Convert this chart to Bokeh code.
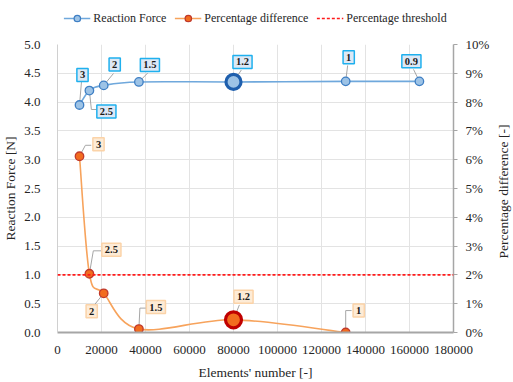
import math
import numpy as np
from bokeh.plotting import figure
from bokeh.layouts import column, row
from bokeh.core.properties import value
from bokeh.models import (Range1d, LinearAxis, Label, Legend, LegendItem, Span,
                          SingleIntervalTicker, PrintfTickFormatter, NumeralTickFormatter)
from bokeh.embed import file_html
from bokeh.resources import INLINE

# ---------------- data ----------------
force_x = [10000, 14500, 21000, 37000, 80000, 131000, 164500]
force_y = [3.95, 4.20, 4.29, 4.35, 4.35, 4.36, 4.36]
force_lbl = ["3", "2.5", "2", "1.5", "1.2", "1", "0.9"]

pct_x = [10000, 14500, 21000, 37000, 80000, 131000]
pct_y = [6.12, 2.04, 1.36, 0.12, 0.44, 0.0]
pct_lbl = ["3", "2.5", "2", "1.5", "1.2", "1"]

threshold = 2.0
highlight = "1.2"
series_names = ["Reaction Force", "Percentage difference", "Percentage threshold"]
x_title = "Elements' number [-]"
y_title = "Reaction Force [N]"
y2_title = "Percentage difference [-]"

# ---------------- layout (pixels) ----------------
W, H, LEG_H, RT_W = 513, 382, 36, 21
FL, FR, FT, FB = 52, 456, 44, 333
XMAX, YMAX, PMAX = 180000, 5.0, 10.0
def px_x(dx): return dx * XMAX / (FR - FL)
def px_y(dy): return -dy * YMAX / (FB - FT)

force_box = [(3, -30), (17, 21), (11, -21), (11, -17), (9, -20), (3, -24), (-8, -20)]
force_lead = [[(0, 0), (2, -23)], [(0, 0), (2, 19), (8, 19)], [(0, 0), (10, -12)],
              [(0, 0), (9, -9)], [(0, 0), (8, -12)], [(0, 0), (2, -16)], [(0, 0), (-6, -12)]]
pct_box = [(19, -12), (22, -24), (-12, 18), (17, -22), (10, -23), (13, -22)]
pct_lead = [[(0, 0), (6, -11), (12, -11)], [(0, 0), (4, -23), (12, -23)], [(0, 0), (-9, 11)],
            [(0, 0), (1, -21), (8, -21)], [(0, 0), (6, -15)], [(0, 0), (0, -22), (6, -22)]]

FONT = "Liberation Serif"
TXT = "#262626"
PW = W - RT_W

p = figure(width=PW, height=H - LEG_H, output_backend="svg", toolbar_location=None,
           x_range=Range1d(0, XMAX), y_range=Range1d(0, YMAX),
           min_border_left=FL, min_border_right=PW - FR, min_border_top=FT - LEG_H,
           min_border_bottom=H - FB)
p.extra_y_ranges = {"pct": Range1d(0, PMAX)}
p.outline_line_color = None
p.background_fill_color = "white"
p.border_fill_color = "white"

p.xaxis.ticker = SingleIntervalTicker(interval=20000)
p.yaxis.ticker = SingleIntervalTicker(interval=0.5)
p.yaxis.formatter = NumeralTickFormatter(format="0.0")
p.xaxis.formatter = NumeralTickFormatter(format="0")
for ax in [p.xaxis[0], p.yaxis[0]]:
    ax.major_tick_out = 0
    ax.major_tick_in = 0
    ax.minor_tick_out = 0
    ax.minor_tick_in = 0
    ax.major_label_text_font = FONT
    ax.major_label_text_font_size = "13px"
    ax.major_label_text_color = TXT
    ax.axis_label_text_font = FONT
    ax.axis_label_text_font_size = "13.5px"
    ax.axis_label_text_font_style = "normal"
    ax.axis_label_text_color = TXT
p.xaxis.axis_label = x_title
p.yaxis.axis_label = y_title
p.xaxis.axis_line_color = "#a6a6a6"
p.xaxis.axis_line_width = 2
p.yaxis.axis_line_color = "#d0d0d0"
p.xaxis.major_label_standoff = 13
p.xaxis.axis_label_standoff = 8
p.yaxis.major_label_standoff = 17
p.yaxis.axis_label_standoff = 3

ra = LinearAxis(y_range_name="pct", ticker=SingleIntervalTicker(interval=1),
                formatter=PrintfTickFormatter(format="%d%%"))
ra.major_tick_out = 4
ra.major_tick_in = 0
ra.minor_tick_out = 0
ra.minor_tick_in = 0
ra.major_tick_line_color = "#a6a6a6"
ra.axis_line_color = "#a6a6a6"
ra.axis_line_width = 1.5
ra.major_label_text_font = FONT
ra.major_label_text_font_size = "13px"
ra.major_label_text_color = TXT
ra.major_label_standoff = 8
p.add_layout(ra, "right")

p.xgrid.grid_line_color = "#e3e3e3"
p.ygrid.grid_line_color = "#e3e3e3"

def bezier_parts(xs, ys):
    xs = np.asarray(xs, float); ys = np.asarray(ys, float)
    n = len(xs)
    out = {k: [] for k in ["x0", "y0", "x1", "y1", "cx0", "cy0", "cx1", "cy1"]}
    for i in range(n - 1):
        a = max(i - 1, 0); d = min(i + 2, n - 1)
        out["x0"].append(xs[i]); out["y0"].append(ys[i])
        out["x1"].append(xs[i + 1]); out["y1"].append(ys[i + 1])
        out["cx0"].append(xs[i] + (xs[i + 1] - xs[a]) / 6)
        out["cy0"].append(ys[i] + (ys[i + 1] - ys[a]) / 6)
        out["cx1"].append(xs[i + 1] - (xs[d] - xs[i]) / 6)
        out["cy1"].append(ys[i + 1] - (ys[d] - ys[i]) / 6)
    return out

BL_LINE, BL_FILL, BL_EDGE = "#6fa8dc", "#9dc3e6", "#3f7fc4"
OR_LINE, OR_FILL, OR_EDGE = "#f7a35c", "#f26c1f", "#c0392b"
THR_COL = "#ff1a1a"

p.bezier(line_color=BL_LINE, line_width=1.6, **bezier_parts(force_x, force_y))
p.bezier(line_color=OR_LINE, line_width=1.6, y_range_name="pct", **bezier_parts(pct_x, pct_y))
p.add_layout(Span(location=threshold, dimension="width", y_range_name="pct",
                  line_color=THR_COL, line_dash="3 2", line_width=1.6))

def leaders(xs, ys, leads, scale=1.0):
    lx, ly = [], []
    for x0, y0, path in zip(xs, ys, leads):
        lx.append([x0 + px_x(dx) for dx, dy in path])
        ly.append([y0 + px_y(dy) * scale for dx, dy in path])
    return lx, ly

lx, ly = leaders(force_x, force_y, force_lead)
p.multi_line(lx, ly, line_color="#a6a6a6", line_width=1)
lx2, ly2 = leaders(pct_x, pct_y, pct_lead, scale=PMAX / YMAX)
p.multi_line(lx2, ly2, line_color="#a6a6a6", line_width=1, y_range_name="pct")

fx_n = [x for x, l in zip(force_x, force_lbl) if l != highlight]
fy_n = [y for y, l in zip(force_y, force_lbl) if l != highlight]
fx_h = [x for x, l in zip(force_x, force_lbl) if l == highlight]
fy_h = [y for y, l in zip(force_y, force_lbl) if l == highlight]
p.scatter(fx_n, fy_n, size=8.5, fill_color=BL_FILL, line_color=BL_EDGE, line_width=1.3)
p.scatter(fx_h, fy_h, size=15, fill_color=BL_FILL, line_color="#1f5fad", line_width=3.2)

px_n = [x for x, l in zip(pct_x, pct_lbl) if l != highlight]
py_n = [y for y, l in zip(pct_y, pct_lbl) if l != highlight]
px_h = [x for x, l in zip(pct_x, pct_lbl) if l == highlight]
py_h = [y for y, l in zip(pct_y, pct_lbl) if l == highlight]
p.scatter(px_n, py_n, size=8.5, fill_color=OR_FILL, line_color=OR_EDGE, line_width=1.3,
          y_range_name="pct")
p.scatter(px_h, py_h, size=16, fill_color=OR_FILL, line_color="#c00000", line_width=3.2,
          y_range_name="pct")

for x, y, t, (dx, dy) in zip(force_x, force_y, force_lbl, force_box):
    p.add_layout(Label(x=x, y=y, x_offset=dx, y_offset=-dy, text=t,
                       text_font=FONT, text_font_size="10.5px", text_font_style="bold",
                       text_color="#1a1a1a", text_align="center", text_baseline="middle",
                       background_fill_color="#dde8f5", border_line_color="#1fb0ee",
                       border_line_width=1.5, padding=[3, 3]))
for x, y, t, (dx, dy) in zip(pct_x, pct_y, pct_lbl, pct_box):
    p.add_layout(Label(x=x, y=y, x_offset=dx, y_offset=-dy, text=t, y_range_name="pct",
                       text_font=FONT, text_font_size="10.5px", text_font_style="bold",
                       text_color="#1a1a1a", text_align="center", text_baseline="middle",
                       background_fill_color="#fdebd6", border_line_color="#fbd3a8",
                       border_line_width=1.5, padding=[3, 3]))

# ---------------- legend strip ----------------
lg = figure(width=PW, height=LEG_H, output_backend="svg", toolbar_location=None,
            x_range=Range1d(0, 1), y_range=Range1d(0, 1),
            x_axis_location=None, y_axis_location=None,
            min_border_left=0, min_border_right=0, min_border_top=0, min_border_bottom=0)
lg.grid.visible = False
lg.outline_line_color = None
off = [-5, -4]   # legend proxies kept outside the visible range
bl = lg.line(off, off, line_color=BL_LINE, line_width=1.6)
bm = lg.scatter(off[:1], off[:1], size=8.5, fill_color=BL_FILL, line_color=BL_EDGE, line_width=1.3)
ol = lg.line(off, off, line_color=OR_LINE, line_width=1.6)
om = lg.scatter(off[:1], off[:1], size=8.5, fill_color=OR_FILL, line_color=OR_EDGE, line_width=1.3)
tl = lg.line(off, off, line_color=THR_COL, line_dash="3 2", line_width=1.6)
legend = Legend(items=[LegendItem(label=series_names[0], renderers=[bl, bm]),
                       LegendItem(label=series_names[1], renderers=[ol, om]),
                       LegendItem(label=series_names[2], renderers=[tl])],
                orientation="horizontal", location="center",
                label_text_font=FONT, label_text_font_size="12px", label_text_color=TXT,
                glyph_width=27, glyph_height=16, label_standoff=3, spacing=8,
                padding=0, margin=0, border_line_color=None, background_fill_alpha=0)
lg.add_layout(legend, "center")

# ---------------- right-hand axis title strip ----------------
rt = figure(width=RT_W, height=H, output_backend="svg", toolbar_location=None,
            x_range=Range1d(0, 1), y_range=Range1d(0, 1),
            x_axis_location=None, y_axis_location=None,
            min_border_left=0, min_border_right=0, min_border_top=0, min_border_bottom=0)
rt.grid.visible = False
rt.outline_line_color = None
rt.text(x=[0.5], y=[0.5], text=[y2_title], angle=math.pi / 2,
        text_font=value(FONT), text_font_size="13.5px", text_color=TXT,
        text_align="center", text_baseline="middle")

open("out.html", "w").write(file_html(row(column(lg, p, spacing=0), rt, spacing=0), INLINE))
